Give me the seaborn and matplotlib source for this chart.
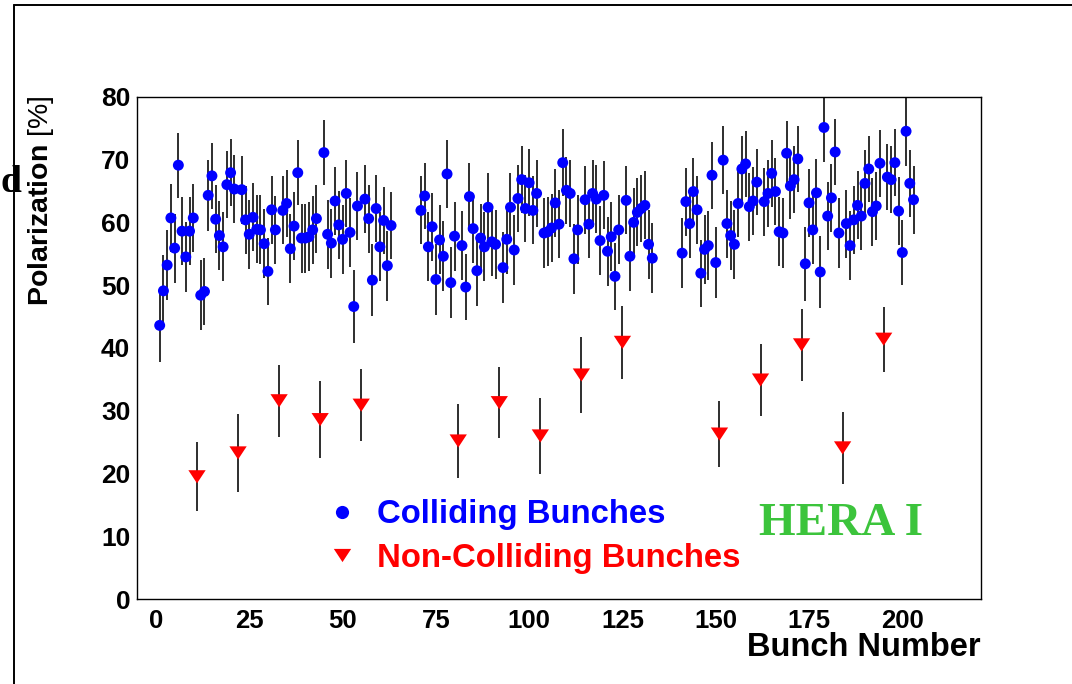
import matplotlib
matplotlib.use("Agg")
import matplotlib.pyplot as plt
import seaborn as sns
import pandas as pd
from matplotlib.lines import Line2D
from matplotlib.ticker import MultipleLocator

# ---------------- data ----------------
noncolliding_bunches = [11, 22, 33, 44, 55, 81, 92, 103, 114, 125, 151, 162, 173, 184, 195]
noncolliding_pol = [19.5, 23.3, 31.6, 28.6, 30.9, 25.2, 31.3, 26.0, 35.7, 40.9,
                    26.3, 34.9, 40.5, 24.1, 41.4]
noncolliding_err = [5.5, 6.2, 5.7, 6.1, 5.7, 5.9, 5.6, 6.0, 6.0, 5.8,
                    5.3, 5.7, 5.7, 5.7, 5.2]

train_first_bunch = [1, 71, 141]
train_length = 63

train1_pol = [43.6, 49.1, 53.2, 60.7, 55.9, 69.1, 58.6, 54.5, 58.6, 60.7,
              48.4, 49.0, 64.3, 67.4, 60.5, 57.9, 56.1, 66.0, 67.9, 65.3,
              65.2, 60.4, 58.1, 60.8, 58.9, 58.8, 56.6, 52.2, 62.0, 58.8,
              61.9, 63.0, 55.8, 59.4, 67.9, 57.5, 57.5, 57.7, 58.8, 60.6,
              71.1, 58.1, 56.7, 63.4, 59.6, 57.3, 64.6, 58.4, 46.6, 62.6,
              63.7, 60.6, 50.8, 62.2, 56.1, 60.3, 53.1, 59.5]
train2_pol = [61.9, 64.2, 56.1, 59.3, 50.9, 57.2, 54.6, 67.7, 50.4, 57.8,
              56.3, 49.7, 64.1, 59.0, 52.3, 57.5, 56.1, 62.4, 56.9, 56.5,
              52.8, 57.3, 62.4, 55.6, 63.8, 66.8, 62.2, 66.3, 61.9, 64.6,
              58.3, 58.5, 59.1, 63.1, 59.7, 69.5, 65.1, 64.6, 54.2, 58.8,
              63.6, 59.7, 64.6, 63.7, 57.1, 64.3, 55.4, 57.7, 51.4, 58.8,
              63.5, 54.6, 60.0, 61.6, 62.2, 62.7, 56.5, 54.3]
train3_pol = [55.1, 63.3, 59.8, 64.9, 62.0, 51.9, 55.7, 56.3, 67.5, 53.6,
              69.9, 59.8, 57.9, 56.5, 63.0, 68.5, 69.3, 62.5, 63.4, 66.4,
              63.3, 64.6, 67.8, 64.9, 58.5, 58.3, 71.0, 65.8, 66.8, 70.1,
              53.4, 63.1, 58.8, 64.7, 52.1, 75.1, 61.0, 63.9, 71.2, 58.3,
              59.8, 56.3, 60.4, 62.7, 61.0, 66.2, 68.5, 61.7, 62.6, 69.4,
              67.2, 66.8, 69.5, 61.8, 55.2, 74.5, 66.2, 63.6]

train1_err = [5.8, 5.7, 5.6, 5.4, 5.5, 5.2, 5.4, 5.6, 5.4, 5.4,
              5.6, 5.3, 5.6, 5.3, 5.4, 5.5, 5.5, 5.3, 5.3, 5.4,
              5.4, 5.4, 5.5, 5.4, 5.4, 5.5, 5.5, 5.3, 5.4, 5.4,
              5.4, 5.4, 5.5, 5.4, 5.2, 5.5, 5.5, 5.5, 5.4, 5.4,
              5.2, 5.5, 5.5, 5.4, 5.4, 5.5, 5.3, 5.5, 5.8, 5.4,
              5.4, 5.4, 5.7, 5.4, 5.5, 5.4, 5.6, 5.4]
train2_err = [5.4, 5.3, 5.5, 5.4, 5.7, 5.5, 5.6, 5.35, 5.7, 5.5,
              5.5, 5.3, 5.4, 5.4, 5.6, 5.5, 5.5, 5.4, 5.5, 5.5,
              5.6, 5.5, 5.4, 5.5, 5.4, 5.3, 5.4, 5.3, 5.4, 5.4,
              5.5, 5.5, 5.4, 5.4, 5.4, 5.3, 5.3, 5.4, 5.6, 5.5,
              5.4, 5.4, 5.4, 5.4, 5.5, 5.4, 5.5, 5.5, 5.35, 5.5,
              5.4, 5.6, 5.4, 5.4, 5.4, 5.4, 5.5, 5.6]
train3_err = [5.6, 5.4, 5.4, 5.3, 5.4, 5.3, 5.5, 5.5, 5.3, 5.6,
              5.45, 5.4, 5.5, 5.5, 5.4, 5.3, 5.3, 5.4, 5.4, 5.3,
              5.4, 5.4, 5.3, 5.4, 5.5, 5.5, 5.2, 5.3, 5.3, 5.2,
              5.9, 5.4, 5.5, 5.4, 5.75, 5.5, 5.4, 5.4, 5.2, 5.5,
              5.4, 5.5, 5.4, 5.4, 5.4, 5.3, 5.3, 5.4, 5.4, 5.3,
              5.3, 5.3, 5.3, 5.4, 5.25, 5.5, 5.3, 5.4]

x_ticks = [0, 25, 50, 75, 100, 125, 150, 175, 200]
y_ticks = [0, 10, 20, 30, 40, 50, 60, 70, 80]

# ---------------- tables ----------------
colliding_bunches = [b for start in train_first_bunch
                     for b in range(start, start + train_length)
                     if b not in noncolliding_bunches]
colliding = pd.DataFrame({
    "bunch": colliding_bunches,
    "pol": train1_pol + train2_pol + train3_pol,
    "err": train1_err + train2_err + train3_err,
})
noncolliding = pd.DataFrame({
    "bunch": noncolliding_bunches,
    "pol": noncolliding_pol,
    "err": noncolliding_err,
})

# ---------------- style ----------------
sns.set_style("white")
plt.rcParams["font.family"] = ["Liberation Sans", "DejaVu Sans"]
plt.rcParams["mathtext.fontset"] = "custom"
plt.rcParams["mathtext.rm"] = "Liberation Sans"
plt.rcParams["mathtext.bf"] = "Liberation Sans:bold"
for key in ["text.color", "axes.labelcolor", "xtick.color", "ytick.color",
            "xtick.labelcolor", "ytick.labelcolor"]:
    plt.rcParams[key] = "black"

W, H = 1072, 684
fig = plt.figure(figsize=(W / 100, H / 100), dpi=100)
fig.patch.set_facecolor("white")

ax_l, ax_r, ax_t, ax_b = 137.3, 980.7, 96.7, 599.3
ax = fig.add_axes([ax_l / W, (H - ax_b) / H, (ax_r - ax_l) / W, (ax_b - ax_t) / H])
ax.set_facecolor("white")

BLUE = "#0000ff"
RED = "#ff0000"
BAR = "#1e1e1e"

# error bars
ax.errorbar(colliding["bunch"], colliding["pol"], yerr=colliding["err"],
            fmt="none", ecolor=BAR, elinewidth=1.3, capsize=0, zorder=2)
ax.errorbar(noncolliding["bunch"], noncolliding["pol"], yerr=noncolliding["err"],
            fmt="none", ecolor=BAR, elinewidth=1.3, capsize=0, zorder=2)

tri_down = [(-1, 0.76), (1, 0.76), (0, -0.76)]

sns.scatterplot(data=colliding, x="bunch", y="pol", ax=ax, color=BLUE,
                marker="o", s=62, edgecolor="none", linewidth=0, zorder=3,
                legend=False)
sns.scatterplot(data=noncolliding, x="bunch", y="pol", ax=ax, color=RED,
                marker=tri_down, s=155, edgecolor="none", linewidth=0, zorder=3,
                legend=False)

ax.set_xlim(-5, 221)
ax.set_ylim(0, 80)
ax.xaxis.set_major_locator(MultipleLocator(25))
ax.xaxis.set_minor_locator(MultipleLocator(5))
ax.yaxis.set_major_locator(MultipleLocator(10))
ax.yaxis.set_minor_locator(MultipleLocator(2))
ax.set_xticks(x_ticks)
ax.set_yticks(y_ticks)
ax.set_xticklabels([str(t) for t in x_ticks])
ax.set_yticklabels([str(t) for t in y_ticks])

for sp in ax.spines.values():
    sp.set_color("black")
    sp.set_linewidth(1.0)
    sp.set_visible(True)

ax.tick_params(axis="both", which="both", direction="in", top=False, right=False,
               color="black", labelcolor="black", width=1.0)
ax.tick_params(axis="x", which="major", length=8.6, pad=7, labelsize=18.5)
ax.tick_params(axis="x", which="minor", length=5.0)
ax.tick_params(axis="y", which="major", length=11.5, pad=5, labelsize=19)
ax.tick_params(axis="y", which="minor", length=5.8)
for lab in ax.get_xticklabels() + ax.get_yticklabels():
    lab.set_fontweight("bold")

ax.set_xlabel("Bunch Number", loc="right", fontsize=23.5, fontweight="bold",
              labelpad=-1, color="black")
ax.set_ylabel("")

fig.text(41 / W, (H - 95) / H, r"$\mathbf{Polarization}$ [%]", rotation=90,
         ha="center", va="top", fontsize=20.5, color="black")

# legend
handles = [
    Line2D([], [], linestyle="none", marker="o", markersize=9.5, color=BLUE,
           markeredgewidth=0),
    Line2D([], [], linestyle="none", marker=tri_down, markersize=12.5, color=RED,
           markeredgewidth=0),
]
leg = ax.legend(handles, ["Colliding Bunches", "Non-Colliding Bunches"],
                loc="center left", bbox_to_anchor=(332.4 / W, (H - 536.5) / H),
                bbox_transform=fig.transFigure, frameon=False, borderpad=0,
                borderaxespad=0, handlelength=0.6, handletextpad=0.74,
                labelspacing=0.37, prop={"weight": "bold", "size": 23.7})
for t, c in zip(leg.get_texts(), [BLUE, RED]):
    t.set_color(c)

fig.text(841 / W, (H - 535) / H, "HERA I", ha="center", va="baseline",
         fontsize=34, fontweight="bold", color="#3cc43c",
         family=["Liberation Serif", "DejaVu Serif"])

# letter on the left margin and slide frame
fig.text(0.5 / W, (H - 192) / H, "d", ha="left", va="baseline", fontsize=27,
         fontweight="bold", color="black", family=["Liberation Serif", "DejaVu Serif"])
fig.add_artist(Line2D([14 / W, 14 / W], [0, (H - 5) / H], transform=fig.transFigure,
                      color="black", linewidth=1.4))
fig.add_artist(Line2D([14 / W, 1.0], [(H - 5) / H, (H - 5) / H], transform=fig.transFigure,
                      color="black", linewidth=1.4))

fig.savefig("out.png", dpi=100, facecolor="white")
